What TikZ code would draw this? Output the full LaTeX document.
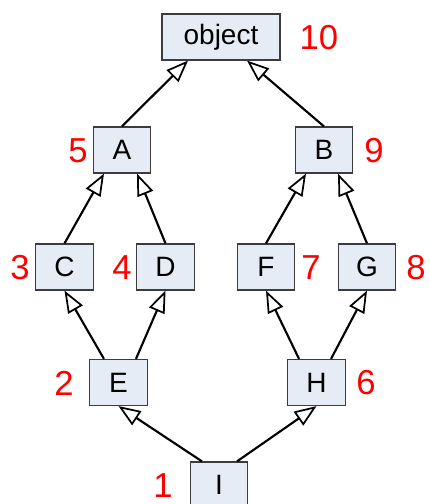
\documentclass[tikz,border=0pt]{standalone}
\usepackage{fontspec}
\setmainfont{Liberation Sans}
\usetikzlibrary{arrows.meta}
\definecolor{boxfill}{RGB}{230,236,246}
\definecolor{boxdraw}{RGB}{60,60,60}
\begin{document}
\begin{tikzpicture}[x=0.75pt,y=-0.75pt,
  cls/.style={draw=boxdraw,fill=boxfill,line width=0.9pt,minimum width=43pt,minimum height=34.5pt,inner sep=0pt,font=\fontsize{21}{25}\selectfont},
  num/.style={text=red,inner sep=0pt,font=\fontsize{26}{30}\selectfont},
  inh/.style={line width=1.6pt,-{Triangle[open,length=16.5pt,width=12.5pt,line width=1.3pt,fill=white]}}]
\useasboundingbox (0,0) rectangle (429,504);
\node[cls,minimum width=88.5pt] (obj) at (221,37) {object};
\node[cls] (A) at (122,150) {A};
\node[cls] (B) at (324,150) {B};
\node[cls] (C) at (64.5,267) {C};
\node[cls] (D) at (165.5,267) {D};
\node[cls] (F) at (266,267) {F};
\node[cls] (G) at (367,267) {G};
\node[cls] (E) at (118.5,382.5) {E};
\node[cls] (H) at (316.5,382.5) {H};
\node[cls] (I) at (219,485) {I};
\node[num] (n10) at (319,38) {10};
\node[num] (n5) at (78,151) {5};
\node[num] (n9) at (374,151) {9};
\node[num] (n3) at (20,268) {3};
\node[num] (n4) at (122,268) {4};
\node[num] (n7) at (311,268) {7};
\node[num] (n8) at (416,268) {8};
\node[num] (n2) at (64,383) {2};
\node[num] (n6) at (366,383) {6};
\node[num] (n1) at (163,486) {1};
\draw[inh] (A.north) -- ([xshift=-24.75pt]obj.south);
\draw[inh] (B.north) -- ([xshift=19.5pt]obj.south);
\draw[inh] (C.north) -- ([xshift=-13.5pt]A.south);
\draw[inh] (D.north) -- ([xshift=11.25pt]A.south);
\draw[inh] (F.north) -- ([xshift=-13.5pt]B.south);
\draw[inh] (G.north) -- ([xshift=10.5pt]B.south);
\draw[inh] ([xshift=-10.9pt]E.north) -- (C.south);
\draw[inh] ([xshift=13.1pt]E.north) -- (D.south);
\draw[inh] ([xshift=-13.1pt]H.north) -- (F.south);
\draw[inh] ([xshift=10.9pt]H.north) -- (G.south);
\draw[inh] ([xshift=-12.75pt]I.north) -- (E.south);
\draw[inh] ([xshift=13.5pt]I.north) -- (H.south);
\end{tikzpicture}
\end{document}
